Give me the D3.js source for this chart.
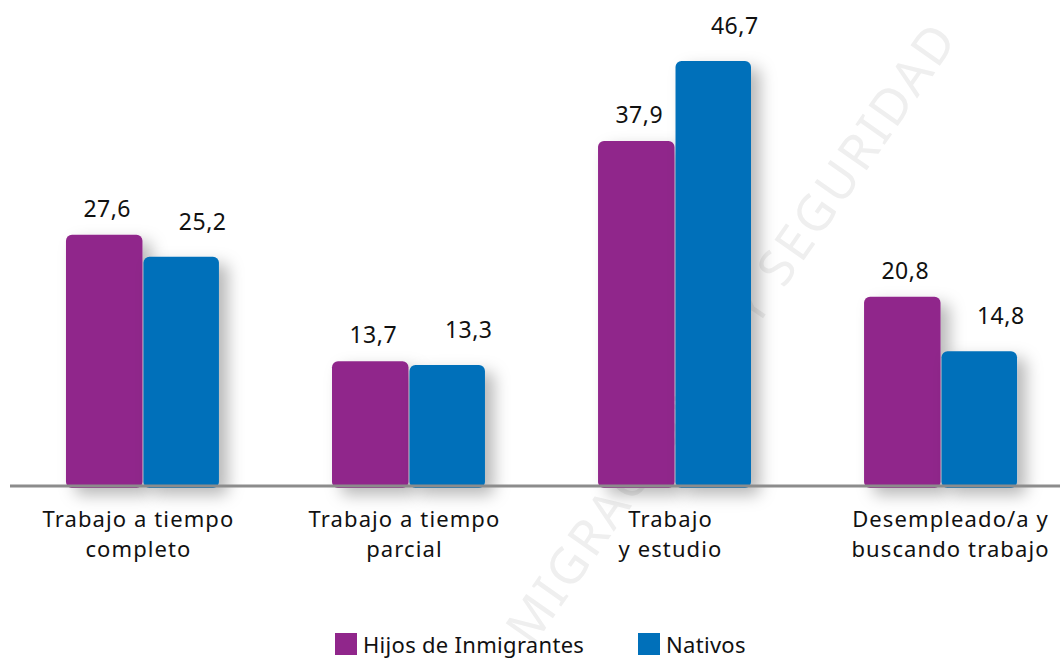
<!DOCTYPE html>
<html>
<head>
<meta charset="utf-8">
<script src="https://cdn.jsdelivr.net/npm/d3@7"></script>
<style>
    html, body { margin: 0; padding: 0; background: #fff; }
    svg { display: block; font-family: "Noto Sans", Lato, sans-serif; }
</style>
</head>
<body>
<svg id="chart" width="1060" height="659"></svg>
<script>
const categories = [
    ['Trabajo a tiempo', 'completo'],
    ['Trabajo a tiempo', 'parcial'],
    ['Trabajo', 'y estudio'],
    ['Desempleado/a y', 'buscando trabajo']
];
const seriesNames = ['Hijos de Inmigrantes', 'Nativos'];
const hijosValues = [27.6, 13.7, 37.9, 20.8];
const nativosValues = [25.2, 13.3, 46.7, 14.8];
const seriesColors = ['#90268b', '#0070ba'];

const svg = d3.select('#chart');
const width = 1060;
const baseline = 486;

const rows = categories.map((cat, i) => ({
    key: cat.join(' '),
    lines: cat,
    values: [hijosValues[i], nativosValues[i]]
}));

const x0 = d3.scaleBand()
    .domain(rows.map((d) => d.key))
    .range([0, 1083])
    .paddingInner(0.425)
    .paddingOuter(0.248);

const x1 = d3.scaleBand()
    .domain(seriesNames)
    .range([0, x0.bandwidth()]);

const y = d3.scaleLinear()
    .domain([0, 50])
    .range([baseline, baseline - 455]);

// soft shadow behind the bars
const defs = svg.append('defs');
const shadow = defs.append('filter')
    .attr('id', 'barShadow')
    .attr('x', '-30%').attr('y', '-30%')
    .attr('width', '180%').attr('height', '160%');
shadow.append('feDropShadow')
    .attr('dx', 9).attr('dy', 7)
    .attr('stdDeviation', 8)
    .attr('flood-color', '#000')
    .attr('flood-opacity', 0.28);

// faint watermark
svg.append('text')
    .attr('transform', 'translate(735,335) rotate(-55)')
    .attr('text-anchor', 'middle')
    .attr('dominant-baseline', 'middle')
    .attr('font-size', 50)
    .attr('letter-spacing', 3)
    .attr('fill', '#efefef')
    .text('MIGRACIONES Y SEGURIDAD');

const groups = svg.append('g')
    .selectAll('g')
    .data(rows)
    .join('g')
    .attr('transform', (d) => `translate(${x0(d.key)},0)`);

groups.selectAll('rect')
    .data((d) => d.values.map((v, j) => ({ name: seriesNames[j], value: v, idx: j })))
    .join('rect')
    .attr('x', (d) => x1(d.name) + (d.idx === 1 ? 1 : 0))
    .attr('width', (d) => x1.bandwidth() - (d.idx === 1 ? 1 : 0))
    .attr('y', (d) => y(d.value))
    .attr('height', (d) => baseline + 2 - y(d.value))
    .attr('rx', 6)
    .attr('fill', (d) => seriesColors[d.idx])
    .attr('filter', 'url(#barShadow)');

// value labels
const labelDx = [3, 22];
const labelDy = [-18, -27];
groups.selectAll('text.value')
    .data((d) => d.values.map((v, j) => ({ name: seriesNames[j], value: v, idx: j })))
    .join('text')
    .attr('class', 'value')
    .attr('x', (d) => x1(d.name) + x1.bandwidth() / 2 + labelDx[d.idx])
    .attr('y', (d) => y(d.value) + labelDy[d.idx])
    .attr('text-anchor', 'middle')
    .attr('font-size', 23)
    .attr('letter-spacing', 0.5)
    .attr('fill', '#111')
    .text((d) => d3.format('.1f')(d.value).replace('.', ','));

// axis line
svg.append('line')
    .attr('x1', 10).attr('x2', width)
    .attr('y1', baseline).attr('y2', baseline)
    .attr('stroke', '#8c8c8c')
    .attr('stroke-width', 3);

// category labels
const catLabels = svg.append('g')
    .selectAll('text')
    .data(rows)
    .join('text')
    .attr('x', (d, i) => x0(d.key) + x0.bandwidth() / 2 + (i === 3 ? 10 : -4))
    .attr('y', 527)
    .attr('text-anchor', 'middle')
    .attr('font-size', 22)
    .attr('letter-spacing', 1.1)
    .attr('fill', '#111');
catLabels.selectAll('tspan')
    .data((d) => d.lines)
    .join('tspan')
    .attr('x', function () { return this.parentNode.getAttribute('x'); })
    .attr('dy', (d, i) => (i === 0 ? 0 : 30))
    .text((d) => d);

// legend
const legendX = [335, 638];
const legend = svg.append('g')
    .selectAll('g')
    .data(seriesNames)
    .join('g')
    .attr('transform', (d, i) => `translate(${legendX[i]},633)`);
legend.append('rect')
    .attr('width', 22).attr('height', 22)
    .attr('fill', (d, i) => seriesColors[i]);
legend.append('text')
    .attr('x', 28).attr('y', 20)
    .attr('font-size', 22)
    .attr('letter-spacing', 0.3)
    .attr('fill', '#111')
    .text((d) => d);
</script>
</body>
</html>
